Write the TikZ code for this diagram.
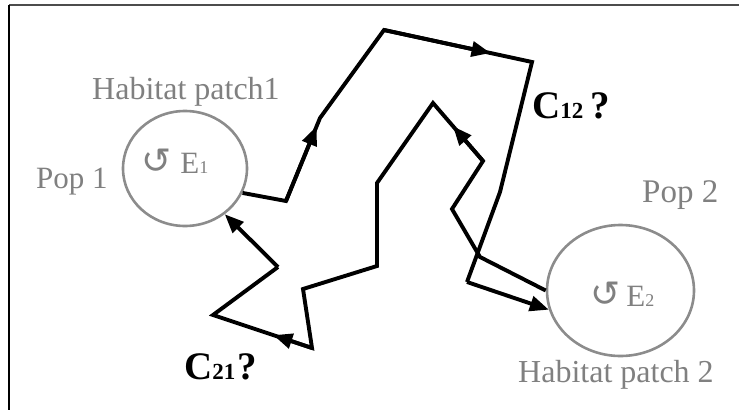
\documentclass[tikz,border=0pt]{standalone}
\usepackage{fontspec}
\setmainfont{Liberation Serif}
\newfontfamily\symfont{DejaVu Sans}
\usetikzlibrary{shapes.geometric,arrows.meta,calc}
\definecolor{patchgray}{HTML}{8C8C8C}
\definecolor{labelgray}{HTML}{808080}
\tikzset{
  patch/.style={ellipse, draw=patchgray, line width=2.6pt, inner sep=0pt},
  route/.style={draw=black, line width=3.9pt, line join=miter},
  tip/.style={route, -{Triangle[length=19pt,width=15pt]}},
  graytext/.style={text=labelgray, inner sep=0pt, anchor=base west},
  blacktext/.style={text=black, inner sep=0pt, anchor=base west},
  frameline/.style={line width=1.8pt}
}
\newcommand{\sz}[1]{\fontsize{#1}{#1}\selectfont}
\begin{document}
\begin{tikzpicture}[x=1pt,y=-1pt]
\useasboundingbox (0,0) rectangle (739,410);
% frame
\coordinate (fl) at (9,410);
\coordinate (fc) at (9,5);
\coordinate (fr) at (739,5);
\draw[frameline, draw=black!70] (fc) -- (fr);
\draw[frameline, draw=black] (fc) -- (fl);

% habitat patches
\node[patch, minimum width=124pt, minimum height=115pt] (p1) at (185,168.5) {};
\node[patch, minimum width=147pt, minimum height=131pt] (p2) at (620.5,290.5) {};

% labels
\node[graytext] (h1) at (92,99) {\sz{32}Habitat patch1};
\node[graytext] (pop1) at (36,188) {\sz{31}Pop 1};
\node[graytext] (e1) at (141,173) {{\symfont\sz{36}↺}\hspace{9pt}{\sz{31}E}{\sz{18}1}};
\node[graytext] (pop2) at (642,202) {\sz{33}Pop 2};
\node[graytext] (e2) at (590,306) {{\symfont\sz{36}↺}\hspace{6pt}{\sz{31}E}{\sz{18}2}};
\node[graytext] (h2) at (518,382) {\sz{32}Habitat patch 2};
\node[blacktext] (c12) at (532,118) {\bfseries\sz{39}C{\sz{23}12}\hspace{7pt}?};
\node[blacktext] (c21) at (184,379) {\bfseries\sz{39}C{\sz{23}21}\hspace{2pt}?};

% route from patch 1 to patch 2
\coordinate (a1) at (286,201);
\coordinate (a2) at (320,118);
\coordinate (a3) at (384,30);
\coordinate (a4) at (532,62);
\coordinate (a5) at (500,192);
\coordinate (a6) at (467,282);
\draw[route] (p1.-23) -- (a1) -- (a2) -- (a3) -- (a4) -- (a5) -- (a6);
\draw[tip] (a6) -- (p2.195);
\draw[tip] (a1) -- ($(a1)!0.9!(a2)$);
\draw[tip] (a3) -- ($(a3)!0.72!(a4)$);

% route from patch 2 to patch 1
\coordinate (b1) at (480,257);
\coordinate (b2) at (452,209);
\coordinate (b3) at (483,161);
\coordinate (b4) at (433,103);
\coordinate (b5) at (377,183);
\coordinate (b6) at (377,266);
\coordinate (b7) at (303,289);
\coordinate (b8) at (312,348);
\coordinate (b9) at (213,315);
\coordinate (b10) at (278,267);
\draw[route] (p2.180) -- (b1) -- (b2) -- (b3) -- (b4) -- (b5) -- (b6) -- (b7) -- (b8) -- (b9) -- (b10);
\draw[tip] (b10) -- (p1.-49);
\draw[tip] (b3) -- ($(b3)!0.6!(b4)$);
\draw[tip] (b8) -- ($(b8)!0.39!(b9)$);
\end{tikzpicture}
\end{document}
